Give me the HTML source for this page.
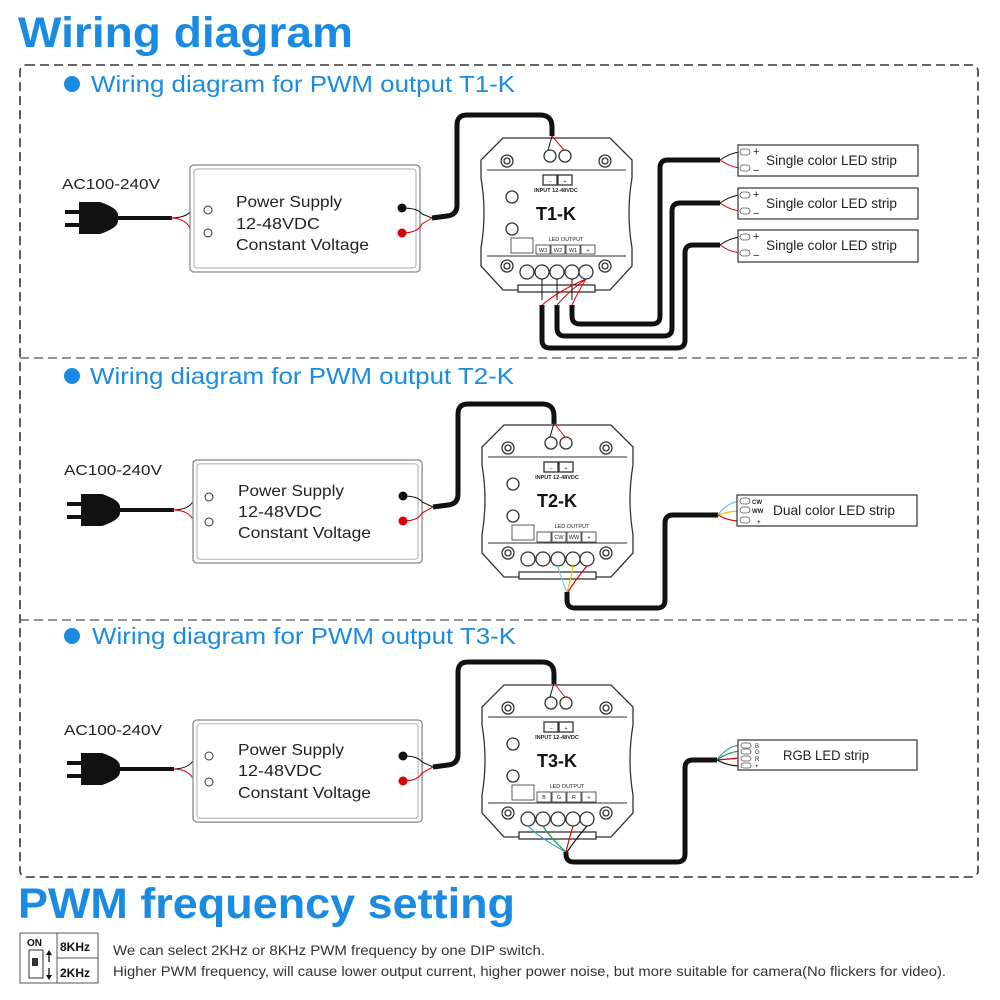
<!DOCTYPE html>
<html><head><meta charset="utf-8"><style>
html,body{margin:0;padding:0;background:#fff}
svg{display:block}
text{font-family:"Liberation Sans",sans-serif}
</style></head><body>
<svg width="1000" height="1000" viewBox="0 0 1000 1000" xmlns="http://www.w3.org/2000/svg">
<defs>
<g id="mod" fill="none" stroke="#333" stroke-width="1.3">
  <path d="M503,138 H610 L632,160 V178 Q626,213 632,248 V266 L610,290 H503 L481,266 V248 Q487,213 481,178 V160 Z" fill="#fff"/>
  <path d="M487,170 H626 M487,256 H626" stroke-width="1"/>
  <rect x="518" y="285" width="77" height="7" fill="#fff"/>
  <circle cx="507" cy="161" r="6"/><circle cx="507" cy="161" r="3"/>
  <circle cx="605" cy="161" r="6"/><circle cx="605" cy="161" r="3"/>
  <circle cx="507" cy="266" r="6"/><circle cx="507" cy="266" r="3"/>
  <circle cx="605" cy="266" r="6"/><circle cx="605" cy="266" r="3"/>
  <circle cx="550" cy="156" r="6" fill="#fff"/><circle cx="565" cy="156" r="6" fill="#fff"/>
  <rect x="543" y="175" width="14" height="10"/><rect x="558" y="175" width="14" height="10"/>
  <circle cx="512" cy="197" r="6"/><circle cx="512" cy="229" r="6"/>
  <rect x="511" y="238" width="22" height="15" stroke-width="0.8"/>
  <circle cx="527" cy="272" r="7" fill="#fff"/><circle cx="542" cy="272" r="7" fill="#fff"/>
  <circle cx="557" cy="272" r="7" fill="#fff"/><circle cx="572" cy="272" r="7" fill="#fff"/>
  <circle cx="586" cy="272" r="7" fill="#fff"/>
</g>
<g id="ps">
  <rect x="0" y="0" width="230" height="107" rx="4" fill="#fff" stroke="#888" stroke-width="1.3"/>
  <rect x="4" y="4" width="222" height="99" rx="3" fill="none" stroke="#aaa" stroke-width="1"/>
</g>
<g id="plug" fill="#111">
  <rect x="65" y="-8" width="14" height="4"/><rect x="65" y="5" width="14" height="4"/>
  <path d="M79,-16 H100 Q118,-10 118,-3 V3 Q118,10 100,16 H79 Z"/>
  <rect x="116" y="-2" width="56" height="4"/>
</g>
</defs>

<text x="18" y="47" font-size="43" font-weight="bold" fill="#1a8be0" textLength="335" lengthAdjust="spacingAndGlyphs">Wiring diagram</text>
<rect x="20" y="65" width="958" height="812" rx="6" fill="none" stroke="#333" stroke-width="1.6" stroke-dasharray="9,5"/>
<line x1="20" y1="358" x2="978" y2="358" stroke="#555" stroke-width="1.3" stroke-dasharray="9,5"/>
<line x1="20" y1="620" x2="978" y2="620" stroke="#555" stroke-width="1.3" stroke-dasharray="9,5"/>

<g fill="#1a8be0" font-size="23">
<circle cx="72" cy="84" r="8"/><text x="91" y="92" textLength="424" lengthAdjust="spacingAndGlyphs">Wiring diagram for PWM output T1-K</text>
<circle cx="72" cy="376" r="8"/><text x="90" y="384" textLength="424" lengthAdjust="spacingAndGlyphs">Wiring diagram for PWM output T2-K</text>
<circle cx="72" cy="636" r="8"/><text x="92" y="644" textLength="424" lengthAdjust="spacingAndGlyphs">Wiring diagram for PWM output T3-K</text>
</g>

<!-- ===== Section 1 ===== -->
<text x="62" y="189" font-size="15" fill="#222" textLength="98" lengthAdjust="spacingAndGlyphs">AC100-240V</text>
<use href="#plug" transform="translate(0,218)"/>
<path d="M170,218 Q185,218 190,212 Q196,209 208,210" fill="none" stroke="#111" stroke-width="1"/>
<path d="M170,218 Q185,218 190,228 Q196,233 208,233" fill="none" stroke="#d00" stroke-width="1"/>
<use href="#ps" transform="translate(190,165)"/>
<circle cx="208" cy="210" r="4" fill="#fff" stroke="#333"/><circle cx="208" cy="233" r="4" fill="#fff" stroke="#333"/>
<g font-size="16" fill="#222"><text x="236" y="207" textLength="106" lengthAdjust="spacingAndGlyphs">Power Supply</text><text x="236" y="229" textLength="84" lengthAdjust="spacingAndGlyphs">12-48VDC</text><text x="236" y="250" textLength="133" lengthAdjust="spacingAndGlyphs">Constant Voltage</text></g>
<circle cx="402" cy="208" r="4.5" fill="#111"/><circle cx="402" cy="233" r="4.5" fill="#d00"/>
<path d="M402,208 Q418,208 422,214 L432,218" fill="none" stroke="#111" stroke-width="1"/>
<path d="M402,233 Q418,233 422,224 L432,218" fill="none" stroke="#d00" stroke-width="1"/>
<path d="M432,218 L447,216 Q457,215 457,205 V125 Q457,115 467,115 H540 Q552,115 552,127 V136" fill="none" stroke="#111" stroke-width="5"/>
<use href="#mod"/>
<path d="M552,136 L548,150" stroke="#111" stroke-width="1" fill="none"/><path d="M552,136 L564,150" stroke="#d00" stroke-width="1" fill="none"/>
<g font-size="5.5" fill="#222" text-anchor="middle"><text x="550" y="183">−</text><text x="565" y="183">+</text><text x="556" y="192" font-weight="bold">INPUT 12-48VDC</text><text x="566" y="241">LED OUTPUT</text></g>
<text x="556" y="220" font-size="18" font-weight="bold" text-anchor="middle" fill="#111">T1-K</text>
<g fill="none" stroke="#333" stroke-width="0.8"><rect x="536" y="245" width="14" height="9"/><rect x="551" y="245" width="14" height="9"/><rect x="566" y="245" width="14" height="9"/><rect x="581" y="245" width="14" height="9"/></g>
<g font-size="5.5" fill="#222" text-anchor="middle"><text x="543" y="252">W3</text><text x="558" y="252">W2</text><text x="573" y="252">W1</text><text x="588" y="252">+</text></g>
<g fill="none" stroke-width="1"><path d="M542,279 V300" stroke="#111"/><path d="M557,279 V300" stroke="#111"/><path d="M572,279 V300" stroke="#111"/>
<path d="M586,279 Q560,290 542,305 M586,279 Q570,290 557,305 M586,279 Q578,292 572,305" stroke="#d00"/></g>
<g fill="none" stroke="#111" stroke-width="5" stroke-linejoin="round">
<path d="M542,305 V340 Q542,348 550,348 H677 Q685,348 685,340 V253 Q685,245 693,245 H720"/>
<path d="M557,305 V328 Q557,336 565,336 H664 Q672,336 672,328 V211 Q672,203 680,203 H720"/>
<path d="M572,305 V316 Q572,324 580,324 H652 Q660,324 660,316 V168 Q660,160 668,160 H720"/>
</g>
<g fill="none" stroke-width="1">
<path d="M720,160 Q730,153 740,152" stroke="#111"/><path d="M720,160 Q730,167 740,168" stroke="#d00"/>
<path d="M720,203 Q730,196 740,195" stroke="#111"/><path d="M720,203 Q730,210 740,211" stroke="#d00"/>
<path d="M720,245 Q730,238 740,237" stroke="#111"/><path d="M720,245 Q730,252 740,253" stroke="#d00"/>
</g>
<g fill="#fff" stroke="#333" stroke-width="1.2">
<rect x="738" y="145" width="180" height="31"/><rect x="738" y="188" width="180" height="31"/><rect x="738" y="230" width="180" height="32"/></g>
<g fill="none" stroke="#555" stroke-width="0.8">
<rect x="740" y="149" width="10" height="6" rx="3"/><rect x="740" y="165" width="10" height="6" rx="3"/>
<rect x="740" y="192" width="10" height="6" rx="3"/><rect x="740" y="208" width="10" height="6" rx="3"/>
<rect x="740" y="234" width="10" height="6" rx="3"/><rect x="740" y="250" width="10" height="6" rx="3"/></g>
<g font-size="11" fill="#222"><text x="753" y="155">+</text><text x="753" y="174">−</text><text x="753" y="198">+</text><text x="753" y="217">−</text><text x="753" y="240">+</text><text x="753" y="259">−</text></g>
<g font-size="14" fill="#222"><text x="766" y="165" textLength="131" lengthAdjust="spacingAndGlyphs">Single color LED strip</text><text x="766" y="208" textLength="131" lengthAdjust="spacingAndGlyphs">Single color LED strip</text><text x="766" y="250" textLength="131" lengthAdjust="spacingAndGlyphs">Single color LED strip</text></g>

<!-- ===== Section 2 ===== -->
<text x="64" y="475" font-size="15" fill="#222" textLength="98" lengthAdjust="spacingAndGlyphs">AC100-240V</text>
<use href="#plug" transform="translate(2,510)"/>
<path d="M172,510 Q187,510 192,503 Q198,497 209,497" fill="none" stroke="#111" stroke-width="1"/>
<path d="M172,510 Q187,510 192,518 Q198,522 209,522" fill="none" stroke="#d00" stroke-width="1"/>
<use href="#ps" transform="translate(193,460) scale(0.996,0.963)"/>
<circle cx="209" cy="497" r="4" fill="#fff" stroke="#333"/><circle cx="209" cy="522" r="4" fill="#fff" stroke="#333"/>
<g font-size="16" fill="#222"><text x="238" y="496" textLength="106" lengthAdjust="spacingAndGlyphs">Power Supply</text><text x="238" y="517" textLength="84" lengthAdjust="spacingAndGlyphs">12-48VDC</text><text x="238" y="538" textLength="133" lengthAdjust="spacingAndGlyphs">Constant Voltage</text></g>
<circle cx="403" cy="496" r="4.5" fill="#111"/><circle cx="403" cy="521" r="4.5" fill="#d00"/>
<path d="M403,496 Q418,496 422,502 L433,507" fill="none" stroke="#111" stroke-width="1"/>
<path d="M403,521 Q418,521 422,513 L433,507" fill="none" stroke="#d00" stroke-width="1"/>
<path d="M433,507 L448,505 Q458,504 458,494 V414 Q458,404 468,404 H542 Q554,404 554,416 V424" fill="none" stroke="#111" stroke-width="5"/>
<g transform="translate(1,287)">
<use href="#mod"/>
<path d="M553,136 L549,150" stroke="#111" stroke-width="1" fill="none"/><path d="M553,136 L564,150" stroke="#d00" stroke-width="1" fill="none"/>
<g font-size="5.5" fill="#222" text-anchor="middle"><text x="550" y="183">−</text><text x="565" y="183">+</text><text x="556" y="192" font-weight="bold">INPUT 12-48VDC</text><text x="571" y="241">LED OUTPUT</text></g>
<text x="556" y="220" font-size="18" font-weight="bold" text-anchor="middle" fill="#111">T2-K</text>
<g fill="none" stroke="#333" stroke-width="0.8"><rect x="536" y="245" width="14" height="10"/><rect x="551" y="245" width="14" height="10"/><rect x="566" y="245" width="14" height="10"/><rect x="581" y="245" width="14" height="10"/></g>
<g font-size="5.5" fill="#222" text-anchor="middle"><text x="558" y="252">CW</text><text x="573" y="252">WW</text><text x="588" y="252">+</text></g>
<g fill="none" stroke-width="1.2"><path d="M557,279 Q560,292 566,305" stroke="#7bc4e8"/><path d="M572,279 Q570,292 566,305" stroke="#e8c400"/><path d="M586,279 Q575,292 567,305" stroke="#d00"/></g>
</g>
<path d="M567,592 V600 Q567,608 575,608 H657 Q665,608 665,600 V523 Q665,515 673,515 H718" fill="none" stroke="#111" stroke-width="5" stroke-linejoin="round"/>
<g fill="none" stroke-width="1.2"><path d="M718,515 Q726,503 740,501" stroke="#7bc4e8"/><path d="M718,515 Q730,511 740,511" stroke="#e8c400"/><path d="M718,515 Q728,521 740,521" stroke="#d00"/></g>
<rect x="737" y="495" width="180" height="31" fill="#fff" stroke="#333" stroke-width="1.2"/>
<g fill="none" stroke="#555" stroke-width="0.8"><rect x="740" y="498" width="10" height="6" rx="3"/><rect x="740" y="507" width="10" height="6" rx="3"/><rect x="740" y="517" width="10" height="6" rx="3"/></g>
<g font-size="6" fill="#222" font-weight="bold"><text x="752" y="504">CW</text><text x="752" y="513">WW</text><text x="757" y="524">+</text></g>
<text x="773" y="515" font-size="14" fill="#222" textLength="122" lengthAdjust="spacingAndGlyphs">Dual color LED strip</text>

<!-- ===== Section 3 ===== -->
<text x="64" y="735" font-size="15" fill="#222" textLength="98" lengthAdjust="spacingAndGlyphs">AC100-240V</text>
<use href="#plug" transform="translate(2,769)"/>
<path d="M172,769 Q187,769 192,762 Q198,756 209,756" fill="none" stroke="#111" stroke-width="1"/>
<path d="M172,769 Q187,769 192,777 Q198,782 209,782" fill="none" stroke="#d00" stroke-width="1"/>
<use href="#ps" transform="translate(193,720) scale(0.996,0.954)"/>
<circle cx="209" cy="756" r="4" fill="#fff" stroke="#333"/><circle cx="209" cy="782" r="4" fill="#fff" stroke="#333"/>
<g font-size="16" fill="#222"><text x="238" y="755" textLength="106" lengthAdjust="spacingAndGlyphs">Power Supply</text><text x="238" y="776" textLength="84" lengthAdjust="spacingAndGlyphs">12-48VDC</text><text x="238" y="798" textLength="133" lengthAdjust="spacingAndGlyphs">Constant Voltage</text></g>
<circle cx="403" cy="756" r="4.5" fill="#111"/><circle cx="403" cy="781" r="4.5" fill="#d00"/>
<path d="M403,756 Q418,756 422,762 L433,767" fill="none" stroke="#111" stroke-width="1"/>
<path d="M403,781 Q418,781 422,773 L433,767" fill="none" stroke="#d00" stroke-width="1"/>
<path d="M433,767 L448,765 Q458,764 458,754 V672 Q458,662 468,662 H542 Q554,662 554,674 V684" fill="none" stroke="#111" stroke-width="5"/>
<g transform="translate(1,547)">
<use href="#mod"/>
<path d="M553,136 L549,150" stroke="#111" stroke-width="1" fill="none"/><path d="M553,136 L564,150" stroke="#d00" stroke-width="1" fill="none"/>
<g font-size="5.5" fill="#222" text-anchor="middle"><text x="550" y="183">−</text><text x="565" y="183">+</text><text x="556" y="192" font-weight="bold">INPUT 12-48VDC</text><text x="566" y="241">LED OUTPUT</text></g>
<text x="556" y="220" font-size="18" font-weight="bold" text-anchor="middle" fill="#111">T3-K</text>
<g fill="none" stroke="#333" stroke-width="0.8"><rect x="536" y="245" width="14" height="10"/><rect x="551" y="245" width="14" height="10"/><rect x="566" y="245" width="14" height="10"/><rect x="581" y="245" width="14" height="10"/></g>
<g font-size="5.5" fill="#222" text-anchor="middle"><text x="543" y="252">B</text><text x="558" y="252">G</text><text x="573" y="252">R</text><text x="588" y="252">+</text></g>
<g fill="none" stroke-width="1.2"><path d="M527,279 Q540,292 565,305" stroke="#2a9ee0"/><path d="M542,279 Q550,292 565,305" stroke="#1a9a40"/><path d="M572,279 Q568,292 565,305" stroke="#d00"/><path d="M586,279 Q575,292 566,305" stroke="#111"/></g>
</g>
<path d="M566,852 V854 Q566,862 574,862 H677 Q685,862 685,854 V768 Q685,760 693,760 H717" fill="none" stroke="#111" stroke-width="5" stroke-linejoin="round"/>
<g fill="none" stroke-width="1.2"><path d="M717,760 Q727,746 740,745" stroke="#2a9ee0"/><path d="M717,760 Q728,752 740,751" stroke="#1a9a40"/><path d="M717,760 Q728,759 740,758" stroke="#d00"/><path d="M717,760 Q728,766 740,766" stroke="#111"/></g>
<rect x="738" y="740" width="179" height="30" fill="#fff" stroke="#333" stroke-width="1.2"/>
<g fill="none" stroke="#555" stroke-width="0.8"><rect x="741" y="743" width="10" height="5" rx="2.5"/><rect x="741" y="749" width="10" height="5" rx="2.5"/><rect x="741" y="756" width="10" height="5" rx="2.5"/><rect x="741" y="763" width="10" height="5" rx="2.5"/></g>
<g font-size="6" fill="#222"><text x="755" y="748">B</text><text x="755" y="754">G</text><text x="755" y="761">R</text><text x="755" y="768">+</text></g>
<text x="783" y="760" font-size="14" fill="#222" textLength="86" lengthAdjust="spacingAndGlyphs">RGB LED strip</text>

<!-- PWM section -->
<text x="18" y="918" font-size="43" font-weight="bold" fill="#1a8be0" textLength="497" lengthAdjust="spacingAndGlyphs">PWM frequency setting</text>
<rect x="20" y="933" width="78" height="50" fill="#fff" stroke="#555" stroke-width="1"/>
<line x1="57" y1="933" x2="57" y2="983" stroke="#555"/><line x1="57" y1="958" x2="98" y2="958" stroke="#555"/>
<text x="27" y="946" font-size="10" font-weight="bold" fill="#111">ON</text>
<rect x="29" y="950" width="14" height="28" fill="none" stroke="#333"/><rect x="32" y="958" width="6" height="8" fill="#333"/>
<path d="M49,952 V962 M49,968 V978" stroke="#111" stroke-width="1.3"/>
<path d="M46,955 L49,950 L52,955 Z M46,975 L49,980 L52,975 Z" fill="#111"/>
<text x="60" y="951" font-size="12" font-weight="bold" fill="#111">8KHz</text>
<text x="60" y="977" font-size="12" font-weight="bold" fill="#111">2KHz</text>
<text x="113" y="955" font-size="14" fill="#333" textLength="432" lengthAdjust="spacingAndGlyphs">We can select 2KHz or 8KHz PWM frequency by one DIP switch.</text>
<text x="113" y="976" font-size="14" fill="#333" textLength="833" lengthAdjust="spacingAndGlyphs">Higher PWM frequency, will cause lower output current, higher power noise, but more suitable for camera(No flickers for video).</text>
</svg>
</body></html>
